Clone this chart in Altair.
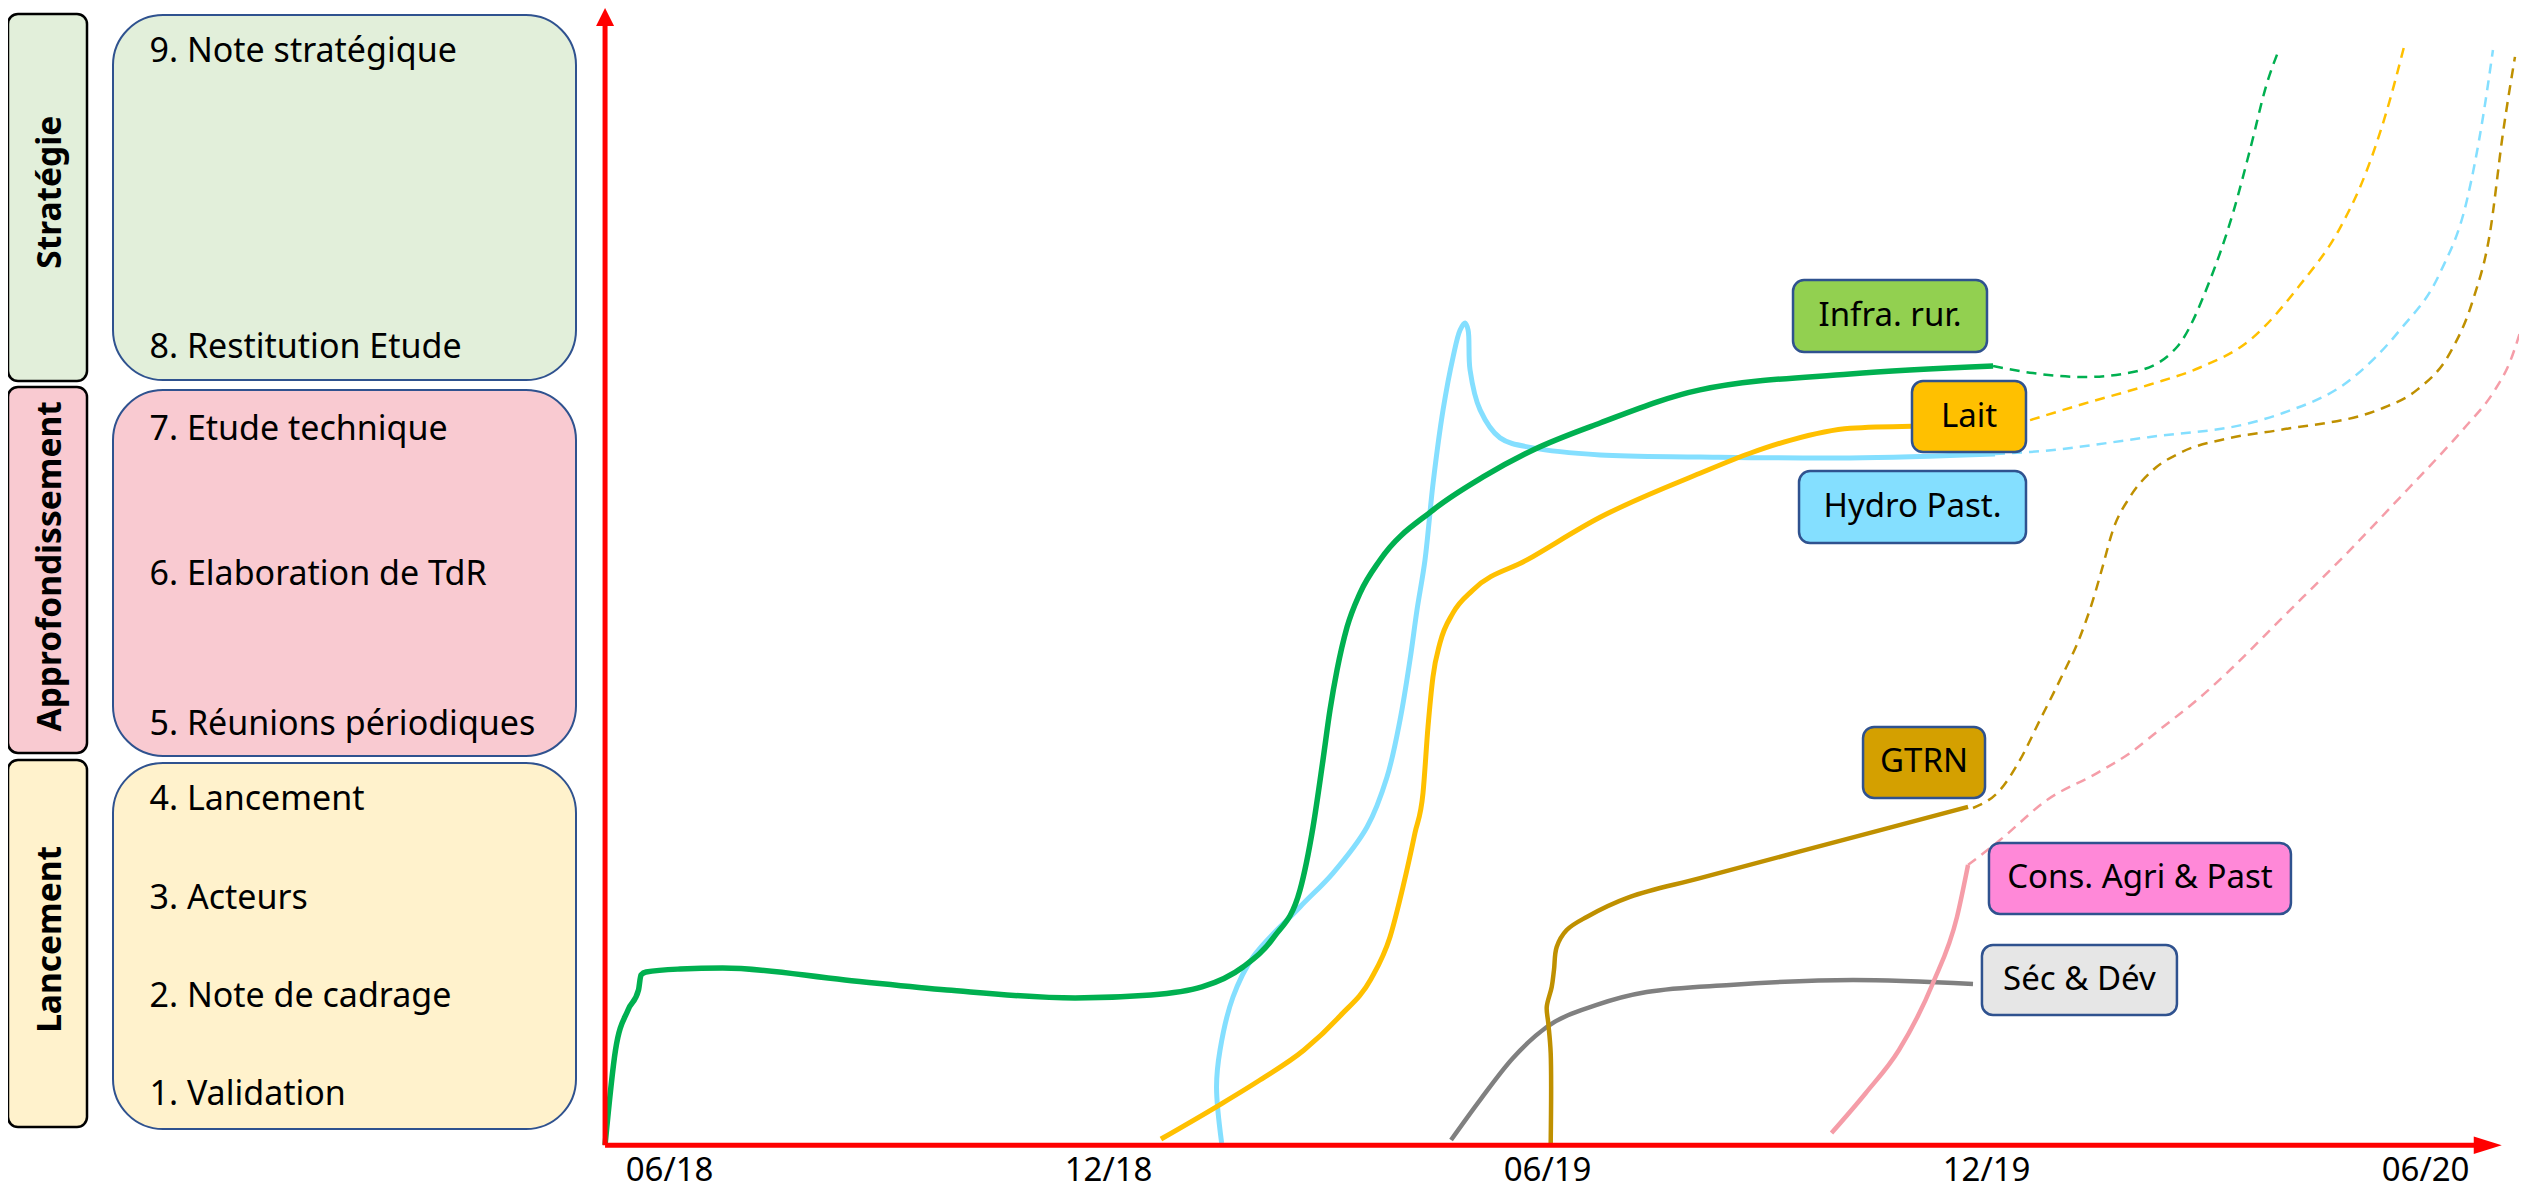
import altair as alt
import pandas as pd

# ------------------------------------------------------------------ data
# x : mois depuis 06/18 ; y : niveau d'avancement (échelle du schéma)
mois_ticks = [0, 6, 12, 18, 24]
mois_labels = ["06/18", "12/18", "06/19", "12/19", "06/20"]

etapes = ["9. Note stratégique", "8. Restitution Etude", "7. Etude technique",
          "6. Elaboration de TdR", "5. Réunions périodiques", "4. Lancement",
          "3. Acteurs", "2. Note de cadrage", "1. Validation"]
etape_niveau = [96.13, 70.10, 62.89, 50.15, 36.96, 30.36, 21.66, 13.04, 4.42]

phases = ["Stratégie", "Approfondissement", "Lancement"]
phase_haut = [99.47, 66.68, 33.88]
phase_bas = [67.20, 34.50, 1.61]
phase_texte = [83.8, 50.9, 18.1]
bloc_haut = [99.38, 66.41, 33.62]
bloc_bas = [67.29, 34.24, 1.43]
phase_fond = ["#E2EFDA", "#F9CAD1", "#FFF2CC"]

series = ["Hydro Past.", "Séc & Dév", "GTRN", "Cons. Agri & Past", "Lait", "Infra. rur."]
couleur_ligne = ["#84DFFF", "#808080", "#BF9000", "#F59DA8", "#FFC000", "#00B050"]
epaisseur = [5, 4.5, 4.5, 4.5, 5, 5.5]
couleur_etiq = ["#84DFFF", "#E6E6E6", "#D4A000", "#FF88D8", "#FFC000", "#92D050"]
etiq_x0 = [15.437, 17.937, 16.312, 18.033, 16.981, 15.355]
etiq_x1 = [18.539, 20.602, 17.979, 22.160, 18.539, 18.006]
etiq_haut = [59.28, 17.61, 36.78, 26.58, 67.20, 76.08]
etiq_bas = [52.96, 11.46, 30.54, 20.34, 60.96, 69.75]

# réalisé (trait plein) / prévu (pointillés) : (mois, niveau)
hydro_reel = [(7.546, 0.20), (7.476, 5.13), (7.524, 8.38), (7.701, 13.04), (7.975, 16.56),
              (8.617, 20.96), (9.068, 23.94), (9.533, 27.99), (9.806, 32.39), (9.984, 37.40),
              (10.120, 42.68), (10.216, 47.08), (10.325, 51.46), (10.436, 58.24), (10.572, 64.66),
              (10.709, 69.32), (10.805, 71.69), (10.873, 72.31), (10.914, 71.69), (10.941, 68.17),
              (11.078, 64.66), (11.351, 62.20), (11.802, 61.32), (12.718, 60.70), (14.084, 60.53),
              (16.134, 60.44), (18.116, 60.79)]
hydro_prev = [(18.116, 60.79), (18.594, 60.96), (20.234, 62.28), (21.600, 63.51), (22.051, 64.39),
              (22.967, 67.29), (23.650, 71.69), (24.197, 76.70), (24.566, 83.12), (24.785, 90.42),
              (24.921, 96.31)]

sec_reel = [(10.681, 0.47), (11.077, 3.98), (11.528, 7.68), (11.989, 10.40), (12.672, 12.34),
            (13.355, 13.48), (14.494, 14.10), (16.175, 14.54), (17.815, 14.19)]
sec_prev = []

gtrn_reel = [(12.043, 0.03), (12.043, 8.12), (12.010, 10.75), (11.989, 12.16), (12.057, 13.92),
             (12.088, 15.41), (12.125, 17.44), (12.262, 18.93), (12.535, 20.08), (13.127, 21.84),
             (14.084, 23.49), (15.451, 25.84), (17.747, 29.76)]
gtrn_prev = [(17.815, 29.66), (18.184, 31.24), (18.457, 33.88), (18.730, 37.40), (19.004, 40.92),
             (19.277, 44.70), (19.455, 47.95), (19.574, 50.59), (19.728, 54.11), (19.960, 57.01),
             (20.275, 59.38), (20.644, 60.88), (21.327, 62.19), (22.010, 62.90), (23.418, 64.83),
             (23.883, 66.42), (24.334, 69.67), (24.648, 74.33), (24.880, 80.22), (25.058, 89.01),
             (25.222, 95.70)]

cons_reel = [(15.881, 1.08), (16.35, 4.60), (16.803, 8.38), (17.268, 14.27), (17.596, 20.08),
             (17.747, 24.65)]
cons_prev = [(17.747, 24.65), (18.184, 26.84), (18.826, 30.36), (19.510, 32.73), (19.960, 34.49),
             (20.411, 36.78), (20.876, 39.15), (21.327, 41.79), (22.010, 46.18), (22.967, 52.34),
             (23.747, 57.62), (24.197, 60.69), (24.566, 63.33), (24.921, 66.15), (25.153, 68.88),
             (25.331, 72.31)]

lait_reel = [(6.717, 0.55), (7.491, 3.45), (8.070, 5.74), (8.672, 8.38), (9.164, 11.37),
             (9.587, 14.62), (9.847, 18.32), (10.024, 22.71), (10.188, 27.46), (10.298, 30.98),
             (10.366, 36.78), (10.434, 41.18), (10.530, 44.17), (10.708, 46.81), (10.981, 48.83),
             (11.719, 51.47), (12.718, 55.22), (14.084, 59.09), (14.767, 60.85), (15.313, 61.99),
             (16.134, 63.05), (16.981, 63.23)]
lait_prev = [(18.594, 63.76), (19.318, 65.18), (20.234, 66.89), (20.917, 68.39), (21.600, 70.80),
             (22.283, 75.64), (22.830, 80.65), (23.199, 85.75), (23.473, 91.03), (23.705, 96.57)]

infra_reel = [(-0.881, 0.03), (-0.738, 8.38), (-0.567, 11.90), (-0.424, 13.65), (-0.390, 14.97),
              (-0.321, 15.24), (0.144, 15.50), (0.726, 15.59), (2.399, 14.54), (3.792, 13.66),
              (5.542, 12.95), (6.580, 13.21), (7.277, 13.92), (7.838, 15.68), (8.262, 18.32),
              (8.617, 22.45), (8.795, 27.99), (8.931, 33.88), (9.027, 38.28), (9.123, 41.79),
              (9.260, 45.57), (9.437, 48.56), (9.711, 51.47), (10.436, 55.86), (11.119, 58.77),
              (11.802, 61.14), (12.718, 63.51), (14.084, 66.42), (16.134, 67.82), (18.089, 68.52)]
infra_prev = [(18.089, 68.52), (18.635, 67.90), (19.318, 67.55), (20.001, 67.99), (20.603, 70.19),
              (21.054, 76.08), (21.368, 81.97), (21.600, 87.51), (21.833, 93.40), (21.983, 96.13)]

reels = [hydro_reel, sec_reel, gtrn_reel, cons_reel, lait_reel, infra_reel]
prevs = [hydro_prev, sec_prev, gtrn_prev, cons_prev, lait_prev, infra_prev]
# courbes dont le début revient en arrière (non monotones en x)
lissage = ["catmull-rom", "monotone", "catmull-rom", "monotone", "monotone", "monotone"]

# axes du schéma
axe_origine = (-0.881, 0.0)
axe_x_fin = 24.75
axe_y_fin = 98.9
fleche_x = 24.85
fleche_y = 99.2
label_y = -2.27

# ------------------------------------------------------------------ scales
XS = alt.Scale(domain=[-9.041, 25.277], nice=False, zero=False)
YS = alt.Scale(domain=[-4.106, 100.0], nice=False, zero=False)


def X(f):
    return alt.X(f, type="quantitative", scale=XS, axis=None)


def Y(f):
    return alt.Y(f, type="quantitative", scale=YS, axis=None)


FONT = "Noto Sans"
layers = []

# ------------------------------------------------------------------ left panel
ph = pd.DataFrame({"phase": phases, "haut": phase_haut, "bas": phase_bas, "texte": phase_texte,
                   "bh": bloc_haut, "bb": bloc_bas, "fond": phase_fond})

layers.append(alt.Chart(ph).mark_rect(cornerRadius=10, stroke="black", strokeWidth=2.5).encode(
    x=alt.value(0), x2=alt.value(79), y=Y("haut"), y2="bas",
    fill=alt.Fill("fond:N", scale=None)))
layers.append(alt.Chart(ph).mark_rect(cornerRadius=50, stroke="#2F528F", strokeWidth=2).encode(
    x=alt.value(105), x2=alt.value(568), y=Y("bh"), y2="bb",
    fill=alt.Fill("fond:N", scale=None)))
layers.append(alt.Chart(ph).mark_text(angle=270, font=FONT, fontSize=33.5, fontWeight="bold",
                                      align="center", baseline="middle", color="black").encode(
    x=alt.value(43), y=Y("texte"), text="phase:N"))

et = pd.DataFrame({"etape": etapes, "niveau": etape_niveau})
layers.append(alt.Chart(et).mark_text(font=FONT, fontSize=34, align="left", baseline="middle",
                                      color="black").encode(
    x=alt.value(141.5), y=Y("niveau"), text="etape:N"))

# ------------------------------------------------------------------ curves
for s, col, w, r, p, interp in zip(series, couleur_ligne, epaisseur, reels, prevs, lissage):
    dr = pd.DataFrame(r, columns=["mois", "niveau"])
    dr["ordre"] = range(len(dr))
    layers.append(alt.Chart(dr).mark_line(color=col, strokeWidth=w, interpolate=interp).encode(
        x=X("mois"), y=Y("niveau"), order="ordre:Q"))
    if p:
        dp = pd.DataFrame(p, columns=["mois", "niveau"])
        dp["ordre"] = range(len(dp))
        layers.append(alt.Chart(dp).mark_line(color=col, strokeWidth=2.5, strokeDash=[10, 7],
                                              interpolate="monotone", clip=True).encode(
            x=X("mois"), y=Y("niveau"), order="ordre:Q"))

# ------------------------------------------------------------------ axes (red arrows)
ax = pd.DataFrame({"x0": [axe_origine[0], axe_origine[0]], "y0": [axe_origine[1], axe_origine[1]],
                   "x1": [axe_x_fin, axe_origine[0]], "y1": [axe_origine[1], axe_y_fin]})
layers.append(alt.Chart(ax).mark_rule(color="#FF0000", strokeWidth=5).encode(
    x=X("x0"), y=Y("y0"), x2="x1", y2="y1"))
fx = pd.DataFrame({"x": [fleche_x], "y": [axe_origine[1]]})
layers.append(alt.Chart(fx).mark_point(shape="M1,0L-1,-0.62L-1,0.62Z", size=784, filled=True,
                                       color="#FF0000", opacity=1, strokeWidth=0).encode(
    x=X("x"), y=Y("y")))
fy = pd.DataFrame({"x": [axe_origine[0]], "y": [fleche_y]})
layers.append(alt.Chart(fy).mark_point(shape="M0,-1L-1,1L1,1Z", size=324, filled=True,
                                       color="#FF0000", opacity=1, strokeWidth=0).encode(
    x=X("x"), y=Y("y")))

tk = pd.DataFrame({"mois": mois_ticks, "label": mois_labels, "y": [label_y] * len(mois_ticks)})
layers.append(alt.Chart(tk).mark_text(font=FONT, fontSize=33, align="center", baseline="middle",
                                      color="black").encode(
    x=X("mois"), y=Y("y"), text="label:N"))

# ------------------------------------------------------------------ series labels
lb = pd.DataFrame({"serie": series, "fond": couleur_etiq, "x0": etiq_x0, "x1": etiq_x1,
                   "haut": etiq_haut, "bas": etiq_bas})
lb["cx"] = (lb["x0"] + lb["x1"]) / 2
lb["cy"] = (lb["haut"] + lb["bas"]) / 2
layers.append(alt.Chart(lb).mark_rect(cornerRadius=11, stroke="#2F528F", strokeWidth=2.5).encode(
    x=X("x0"), x2="x1", y=Y("haut"), y2="bas", fill=alt.Fill("fond:N", scale=None)))
layers.append(alt.Chart(lb).mark_text(font=FONT, fontSize=33, align="center", baseline="middle",
                                      color="black").encode(
    x=X("cx"), y=Y("cy"), text="serie:N"))

chart = alt.layer(*layers).properties(
    width=2511, height=1184, padding=0, background="white",
    autosize=alt.AutoSizeParams(type="none"),
).configure_view(stroke=None)

chart.save("out.html", embed_options={"renderer": "svg", "actions": False})
